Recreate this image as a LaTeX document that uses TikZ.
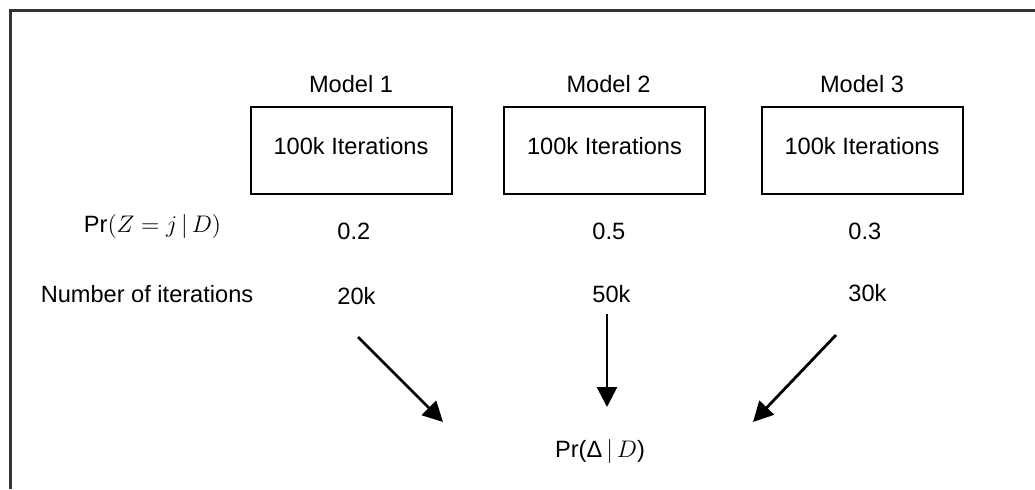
\documentclass[tikz,border=0pt]{standalone}
\usepackage{fontspec}
\setmainfont{Liberation Sans}
\usetikzlibrary{arrows.meta, positioning}
\tikzstyle{model} = [text centered, inner sep=3pt, font=\fontsize{11.8}{14}\selectfont]
\tikzstyle{iterbox} = [rectangle, minimum width=100.5pt, minimum height=43.5pt, text depth=4pt, text centered, draw=black, line width=1pt, font=\fontsize{11.8}{14}\selectfont]
\tikzstyle{value} = [anchor=west, inner sep=0pt, font=\fontsize{11.8}{14}\selectfont]
\tikzstyle{rowlabel} = [text centered, font=\fontsize{11.8}{14}\selectfont]
\tikzstyle{frame} = [line width=1.5pt, draw=black!80]
\tikzstyle{arrow} = [line width=1.4pt, -{Triangle[length=10pt,width=10pt]}]

\begin{document}
\begin{tikzpicture}[x=0.5pt, y=-0.5pt]
			
			\useasboundingbox (0,0) rectangle (1035,489);
			\draw [frame] (1035,10) -- (10.5,10) -- (10.5,489);
			
			\node (box1) [iterbox] at (351,150) {100k Iterations};
			\node (box2) [iterbox] at (604.5,150) {100k Iterations};
			\node (box3) [iterbox] at (862,150) {100k Iterations};
			
			\node (model1) [model, above=3pt of box1] {Model 1};
			\node (model2) [model, above=3pt of box2, xshift=2pt] {Model 2};
			\node (model3) [model, above=3pt of box3] {Model 3};
			
			\node (post_label) [rowlabel] at (152.5,226) {Pr$(Z = j\,|\,D)$};
			\node (iter_label) [rowlabel] at (147,294) {Number of iterations};
			
			\node (post1) [value] at (337,231) {0.2};
			\node (post2) [value] at (592,231) {0.5};
			\node (post3) [value] at (848,231) {0.3};
			
			\node (iter1) [value] at (337,296) {20k};
			\node (iter2) [value] at (592,294) {50k};
			\node (iter3) [value] at (848,293) {30k};
			
			\node (delta) [rowlabel] at (600,451) {Pr(Δ$\,|\,D$)};
			
			\coordinate (from1) at (358,337);
			\coordinate (from2) at (607,314);
			\coordinate (from3) at (836,335);
			\coordinate (to1) at (443,422);
			\coordinate (to2) at (607,407);
			\coordinate (to3) at (753,422);
			
			\draw [arrow] (from1) -- (to1);
			\draw [arrow] (from2) -- (to2);
			\draw [arrow] (from3) -- (to3);
			
		\end{tikzpicture}
\end{document}
